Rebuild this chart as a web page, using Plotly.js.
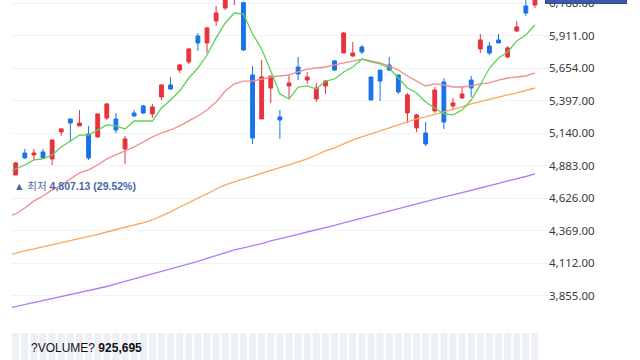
<!DOCTYPE html>
<html>
<head>
<meta charset="utf-8">
<script src="https://cdn.plot.ly/plotly-3.0.1.min.js"></script>
<style>
  html, body { margin: 0; padding: 0; background: #ffffff; }
  #chart { width: 640px; height: 360px; }
</style>
</head>
<body>
<div id="chart"></div>
<script>
// Candle index (1..58) and OHLC values
const candleIdx = Array.from({length: 58}, (_, i) => i + 1);
const openV = [4810,4984,4968,4992,4937,5150,5253,5198,5134,5111,5261,5253,5016,5300,5356,5293,5427,5522,5640,5704,5909,5854,6028,6131,6220,6173,5601,5253,5498,5269,5514,5664,5561,5411,5514,5712,5775,5751,5822,5585,5640,5680,5601,5301,5182,5142,5316,5546,5356,5419,5561,5807,5830,5878,5743,5949,6147,6154];
const highV = [4913,5016,5016,5016,5087,5182,5253,5324,5198,5293,5380,5300,5119,5324,5364,5372,5530,5585,5688,5815,5933,5981,6147,6235,6300,6181,5672,5720,5593,5324,5601,5743,5625,5538,5561,5720,5941,5862,5838,5585,5640,5743,5601,5459,5293,5229,5506,5577,5419,5514,5593,5925,5862,5925,5830,6028,6200,6240];
const lowV = [4807.13,4937,4929,4937,4889,5119,5071,5198,4929,5103,5245,5142,4897,5269,5293,5261,5403,5482,5617,5688,5791,5775,5988,6115,6154,5791,5055,5253,5380,5095,5419,5561,5530,5387,5451,5633,5775,5743,5767,5403,5395,5633,5451,5221,5150,5040,5300,5174,5324,5411,5427,5775,5759,5854,5735,5941,6068,6131];
const closeV = [4905,4945,4984,4945,5087,5174,5221,5221,4945,5293,5372,5166,5095,5277,5300,5348,5522,5490,5680,5807,5854,5973,6091,6210,6270,5799,5103,5585,5593,5245,5538,5609,5585,5498,5553,5640,5933,5775,5783,5403,5553,5640,5467,5443,5285,5055,5482,5229,5380,5451,5498,5878,5775,5854,5815,5981,6091,6226];
const volumeV = [812000,905000,760000,880000,1020000,930000,870000,790000,1110000,980000,940000,860000,1050000,770000,820000,900000,1130000,960000,1040000,1180000,1210000,1090000,1250000,1320000,1400000,1380000,1520000,1290000,1010000,1160000,980000,940000,830000,1020000,910000,870000,1190000,850000,800000,1100000,1060000,890000,960000,1070000,990000,1150000,1080000,1230000,870000,840000,950000,1170000,1010000,880000,920000,1050000,1130000,925695];

// Moving averages (index 0..58; index 0 is the point just left of the view)
const maIdx = Array.from({length: 59}, (_, i) => i);
const ma5 = [4826,4858,4889,4929,4937,4968,5032,5079,5126,5126,5166,5206,5198,5174,5237,5237,5237,5340,5403,5474,5577,5656,5759,5894,6012,6091,6083,5925,5807,5633,5451,5411,5506,5514,5490,5553,5569,5625,5664,5727,5704,5688,5656,5577,5498,5459,5387,5340,5293,5285,5324,5403,5522,5656,5735,5783,5870,5917,5996];
const ma20 = [4478,4502,4549,4605,4644,4692,4731,4779,4826,4850,4889,4937,4968,5000,5032,5071,5111,5142,5166,5198,5237,5277,5324,5387,5474,5530,5553,5553,5569,5585,5593,5601,5625,5648,5656,5664,5680,5696,5712,5727,5712,5696,5672,5640,5593,5553,5514,5530,5522,5506,5506,5514,5530,5538,5561,5577,5585,5593,5617];
const ma60 = [4174,4189,4209,4225,4241,4257,4272,4288,4304,4320,4340,4359,4379,4399,4415,4431,4454,4486,4518,4557,4589,4628,4660,4699,4731,4755,4779,4802,4826,4850,4869,4889,4913,4937,4968,5000,5024,5055,5087,5111,5134,5158,5182,5206,5229,5253,5269,5289,5308,5324,5348,5372,5391,5411,5427,5443,5459,5478,5498];
const ma120 = [3754,3770,3786,3802,3818,3834,3849,3865,3881,3893,3909,3928,3948,3968,3988,4003,4023,4043,4063,4083,4102,4126,4150,4174,4197,4217,4233,4249,4268,4288,4304,4324,4340,4359,4375,4395,4411,4431,4450,4470,4486,4506,4525,4541,4561,4581,4601,4616,4636,4652,4668,4688,4707,4723,4743,4763,4779,4798,4818];

// Price axis ticks
const tickValues = [3855,4112,4369,4626,4883,5140,5397,5654,5911,6168];
const tickLabels = ["3,855.00","4,112.00","4,369.00","4,626.00","4,883.00","5,140.00","5,397.00","5,654.00","5,911.00","6,168.00"];

const lowestText = "▲ 최저 <b>4,807.13 (29.52%)</b>";
const volumeText = "?VOLUME? <b>925,695</b>";
const currentPriceText = "6,226.00";

const traces = [
  { type: 'bar', x: candleIdx, y: volumeV, yaxis: 'y2', width: 0.78,
    marker: { color: '#eef0f8', line: { width: 0 } }, hoverinfo: 'skip' },
  { type: 'scatter', mode: 'lines', x: maIdx, y: ma120, line: { color: '#b07df2', width: 1.3 }, hoverinfo: 'skip' },
  { type: 'scatter', mode: 'lines', x: maIdx, y: ma60, line: { color: '#f8a85e', width: 1.3 }, hoverinfo: 'skip' },
  { type: 'scatter', mode: 'lines', x: maIdx, y: ma20, line: { color: '#f58c8c', width: 1.3 }, hoverinfo: 'skip' },
  { type: 'scatter', mode: 'lines', x: maIdx, y: ma5, line: { color: '#5bd15b', width: 1.3 }, hoverinfo: 'skip' },
  { type: 'candlestick', x: candleIdx, open: openV, high: highV, low: lowV, close: closeV,
    whiskerwidth: 0,
    increasing: { line: { color: '#e8323c', width: 1 }, fillcolor: '#e8323c' },
    decreasing: { line: { color: '#1a73e8', width: 1 }, fillcolor: '#1a73e8' },
    hoverinfo: 'skip' }
];

const layout = {
  width: 640, height: 360,
  margin: { l: 12, r: 92, t: 0, b: 0, pad: 0 },
  paper_bgcolor: '#ffffff', plot_bgcolor: '#ffffff',
  showlegend: false,
  boxgap: 0.4,
  xaxis: { range: [0.594, 59.43], showticklabels: false, showgrid: false, zeroline: false,
           showline: false, ticks: '', rangeslider: { visible: false }, fixedrange: true },
  yaxis: { domain: [40/360, 1], range: [3663, 6194], side: 'right',
           tickvals: tickValues, ticktext: tickLabels, showgrid: true, gridcolor: '#eef1f6', gridwidth: 1,
           zeroline: false, showline: false, ticks: '', ticklabeloverflow: 'allow',
           tickfont: { family: 'Noto Sans, sans-serif', size: 11.5, color: '#3a3a3a' } },
  yaxis2: { domain: [0, 27/360], range: [0, 400000], showticklabels: false, showgrid: false,
            zeroline: false, showline: false, ticks: '' },
  annotations: [
    // current-price tag at the top right (mostly above the visible area)
    { x: 0.9944, y: (360-3.7)/360, xref: 'paper', yref: 'paper', text: currentPriceText, showarrow: false,
      xanchor: 'left', yanchor: 'bottom', width: 80, height: 18, borderpad: 0,
      bgcolor: '#3d5ba9', bordercolor: '#2f4b91', borderwidth: 1,
      font: { family: 'Noto Sans, sans-serif', size: 11.5, color: '#ffffff' } },
    { x: 1, y: 4807.13, xref: 'x', yref: 'y', text: lowestText, showarrow: false,
      xanchor: 'left', yanchor: 'middle', xshift: -4, yshift: -11,
      font: { family: 'Liberation Sans, Noto Sans CJK KR, sans-serif', size: 10.5, color: '#4a64a8' } },
    { x: (29-12)/536, y: (360-347.7)/360, xref: 'paper', yref: 'paper', text: volumeText, showarrow: false,
      xanchor: 'left', yanchor: 'middle',
      font: { family: 'Liberation Sans, sans-serif', size: 12, color: '#111111' } }
  ]
};

Plotly.newPlot('chart', traces, layout, { displayModeBar: false, staticPlot: true });
</script>
</body>
</html>
